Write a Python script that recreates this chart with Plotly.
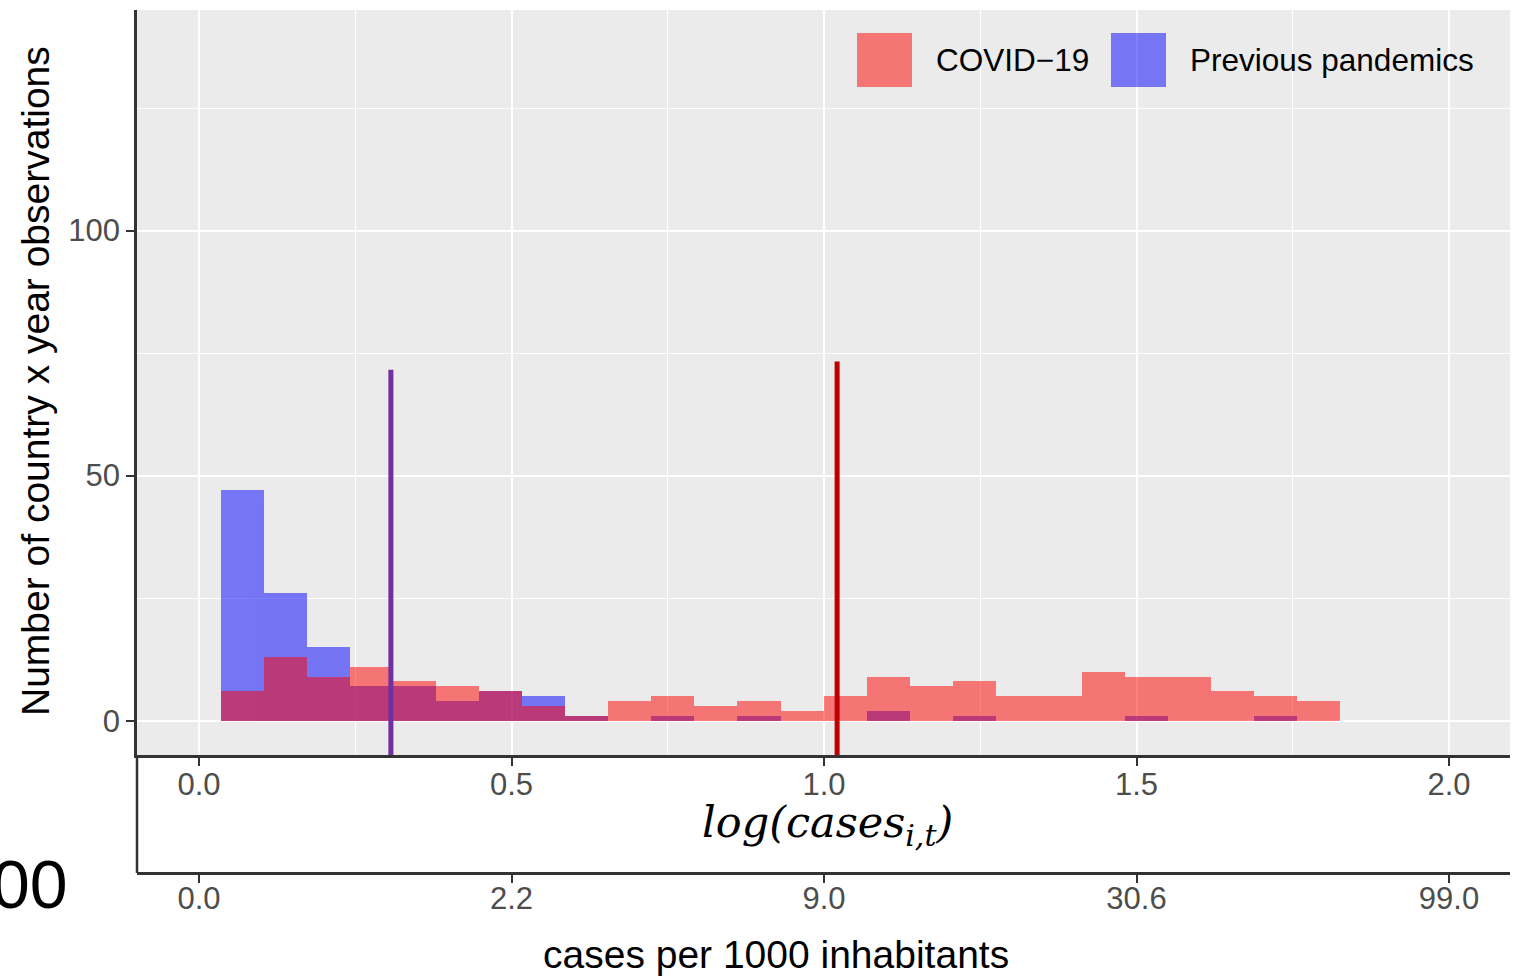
import plotly.graph_objects as go

# Histogram bins on the log10 scale
bin_start = 0.0347
bin_width = 0.0689
covid_counts = [6, 13, 9, 11, 8, 7, 6, 3, 1, 4, 5, 3, 4, 2, 5, 9, 7, 8, 5, 5, 10, 9, 9, 6, 5, 4]
previous_counts = [47, 26, 15, 7, 7, 4, 6, 5, 1, 0, 1, 0, 1, 0, 0, 2, 0, 1, 0, 0, 0, 1, 0, 0, 1, 0]

# Mean markers (position and drawn height)
previous_mean = 0.307
previous_line_top = 71.6
covid_mean = 1.021
covid_line_top = 73.3
line_bottom = -7

# Axis ticks
log_ticks = [0.0, 0.5, 1.0, 1.5, 2.0]
log_tick_labels = ["0.0", "0.5", "1.0", "1.5", "2.0"]
cases_tick_labels = ["0.0", "2.2", "9.0", "30.6", "99.0"]
count_ticks = [0, 50, 100]
count_minor = [25, 75, 125]
log_minor = [0.25, 0.75, 1.25, 1.75]

centers = [bin_start + (i + 0.5) * bin_width for i in range(len(covid_counts))]

W, H = 1519, 976
ML, MR, MT, MB = 137, 9, 10, 103
panel_bottom_px = 755
plot_h = H - MT - MB
plot_w = W - ML - MR
y_dom0 = (H - MB - panel_bottom_px) / plot_h


def px_x(p):
    return (p - ML) / plot_w


def px_y(p):
    return (H - MB - p) / plot_h


FONT = "Liberation Sans, Arial, Helvetica, sans-serif"
AX = "#333333"
TICKC = "#4D4D4D"

fig = go.Figure()

fig.add_trace(go.Bar(
    x=centers, y=previous_counts, width=bin_width,
    marker=dict(color="blue", line=dict(width=0)), opacity=0.5,
    name="Previous pandemics", showlegend=False, hoverinfo="x+y",
))
fig.add_trace(go.Bar(
    x=centers, y=covid_counts, width=bin_width,
    marker=dict(color="red", line=dict(width=0)), opacity=0.5,
    name="COVID-19", showlegend=False, hoverinfo="x+y",
))

fig.add_trace(go.Scatter(
    x=[previous_mean, previous_mean], y=[line_bottom, previous_line_top],
    mode="lines", line=dict(color="#7030A0", width=5), showlegend=False,
    hoverinfo="skip",
))
fig.add_trace(go.Scatter(
    x=[covid_mean, covid_mean], y=[line_bottom, covid_line_top],
    mode="lines", line=dict(color="#C00000", width=5), showlegend=False,
    hoverinfo="skip",
))

# carrier trace for the secondary (cases per 1000) axis
fig.add_trace(go.Scatter(x=[None], y=[None], xaxis="x2", yaxis="y", mode="markers",
                         showlegend=False, hoverinfo="skip"))

xr = [-0.0992, 2.0976]

fig.update_layout(
    width=W, height=H,
    margin=dict(l=ML, r=MR, t=MT, b=MB, pad=0, autoexpand=False),
    paper_bgcolor="white", plot_bgcolor="white",
    barmode="overlay", bargap=0,
    showlegend=False,
    font=dict(family=FONT, color="black"),
    xaxis=dict(
        range=xr, anchor="y", automargin=False,
        tickmode="array", tickvals=log_ticks, ticktext=log_tick_labels,
        ticks="outside", ticklen=8, tickwidth=2, tickcolor=AX,
        ticklabelstandoff=-8,
        tickfont=dict(size=31, color=TICKC, family=FONT),
        showline=True, linecolor=AX, linewidth=3,
        showgrid=True, gridcolor="white", gridwidth=2.2, zeroline=False,
        minor=dict(tickvals=log_minor, showgrid=True, gridcolor="white",
                   gridwidth=1.1, ticks=""),
    ),
    xaxis2=dict(
        range=xr, overlaying="x", anchor="free", position=0, side="bottom",
        automargin=False,
        tickmode="array", tickvals=log_ticks, ticktext=cases_tick_labels,
        ticks="outside", ticklen=8, tickwidth=2, tickcolor=AX,
        ticklabelstandoff=-11,
        tickfont=dict(size=31, color=TICKC, family=FONT),
        showline=True, linecolor=AX, linewidth=3,
        showgrid=False, zeroline=False,
    ),
    yaxis=dict(
        domain=[y_dom0, 1], range=[-7, 145], automargin=False,
        tickmode="array", tickvals=count_ticks,
        ticks="outside", ticklen=8, tickwidth=2, tickcolor=AX,
        tickfont=dict(size=31, color=TICKC, family=FONT),
        showline=True, linecolor=AX, linewidth=2.5,
        showgrid=True, gridcolor="white", gridwidth=2.2, zeroline=False,
        minor=dict(tickvals=count_minor, showgrid=True, gridcolor="white",
                   gridwidth=1.1, ticks=""),
    ),
)

shapes = [
    # grey panel behind the histogram
    dict(type="rect", xref="paper", yref="y domain", x0=0, x1=1, y0=0, y1=1,
         fillcolor="#EBEBEB", line=dict(width=0), layer="below"),
    # left border of the lower axis box
    dict(type="line", xref="paper", yref="paper", x0=0, x1=0, y0=0, y1=y_dom0,
         line=dict(color=AX, width=2.5)),
    # legend keys
    dict(type="rect", xref="paper", yref="paper",
         x0=px_x(857), x1=px_x(912), y0=px_y(87), y1=px_y(33),
         fillcolor="rgba(255,0,0,0.5)", line=dict(width=0)),
    dict(type="rect", xref="paper", yref="paper",
         x0=px_x(1111), x1=px_x(1166), y0=px_y(87), y1=px_y(33),
         fillcolor="rgba(0,0,255,0.5)", line=dict(width=0)),
]
fig.update_layout(shapes=shapes)

annotations = [
    dict(text="COVID\u221219", xref="paper", yref="paper", x=px_x(934), y=px_y(60),
         xanchor="left", yanchor="middle", showarrow=False,
         font=dict(size=31.5, color="black", family=FONT)),
    dict(text="Previous pandemics", xref="paper", yref="paper", x=px_x(1188), y=px_y(60),
         xanchor="left", yanchor="middle", showarrow=False,
         font=dict(size=31.5, color="black", family=FONT)),
    dict(text="<i>log(cases<sub>i,t</sub>)</i>", xref="paper", yref="paper",
         x=px_x(827), y=px_y(825), xanchor="center", yanchor="middle", showarrow=False,
         font=dict(size=43, color="black", family="DejaVu Serif, serif")),
    dict(text="cases per 1000 inhabitants", xref="paper", yref="paper",
         x=px_x(776), y=px_y(954), xanchor="center", yanchor="middle", showarrow=False,
         font=dict(size=39, color="black", family=FONT)),
    dict(text="Number of country x year observations", xref="paper", yref="paper",
         x=px_x(35), y=px_y(381), xanchor="center", yanchor="middle", showarrow=False,
         textangle=-90, font=dict(size=39, color="black", family=FONT)),
    dict(text="00", xref="paper", yref="paper", x=px_x(70), y=px_y(884),
         xanchor="right", yanchor="middle", showarrow=False,
         font=dict(size=68, color="black", family=FONT)),
]
fig.update_layout(annotations=annotations)

fig.write_html("out.html")
